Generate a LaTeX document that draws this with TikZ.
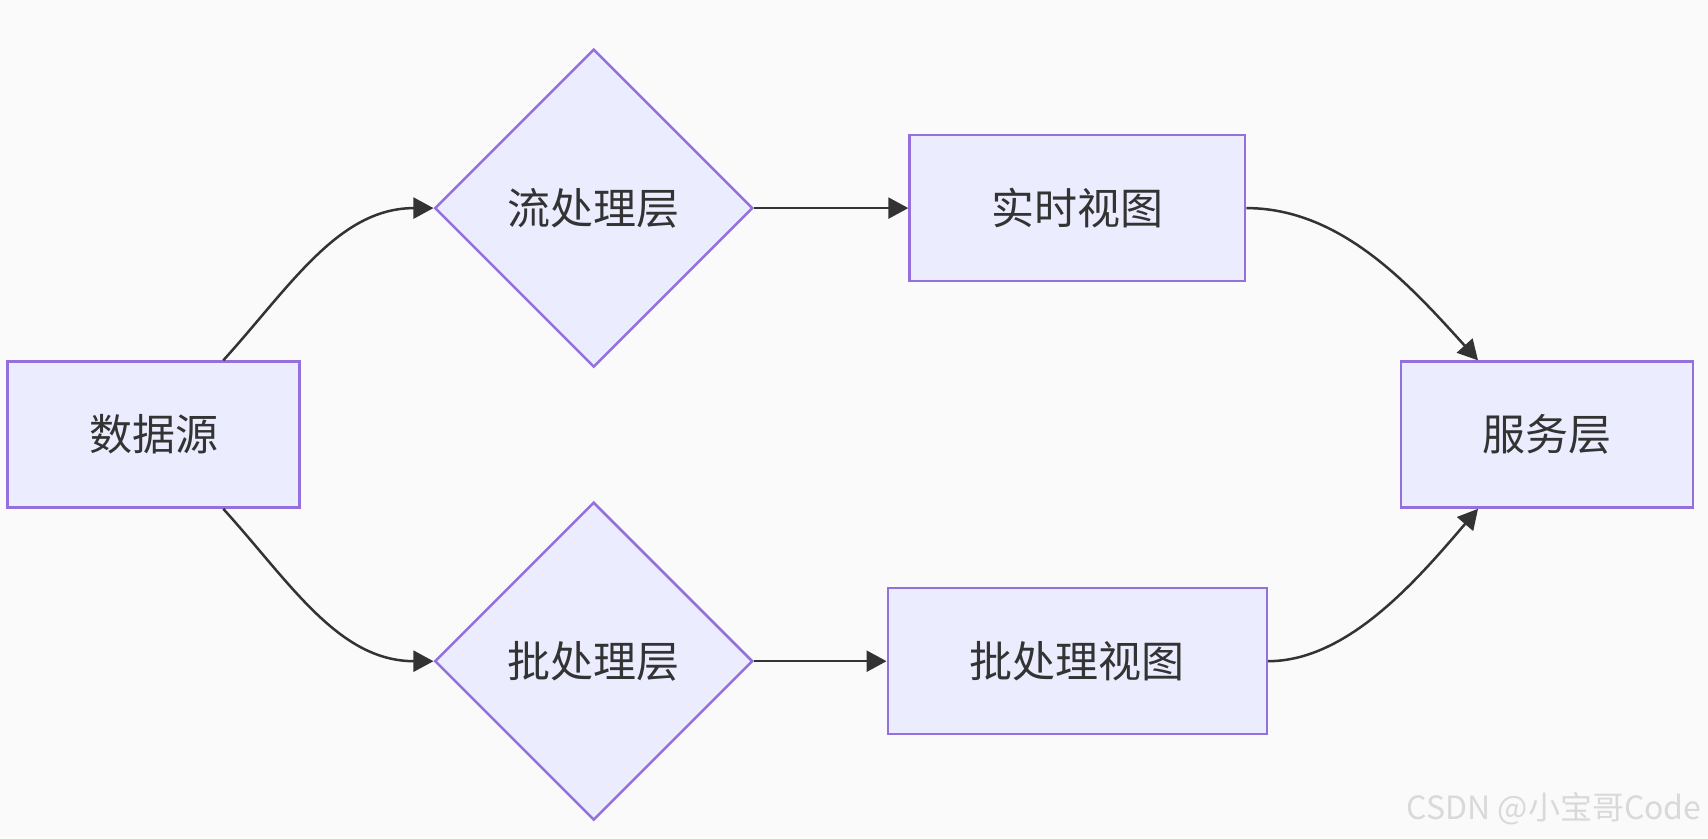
\documentclass[tikz,border=0pt]{standalone}
\usepackage{fontspec}
\setmainfont{Noto Sans CJK SC}
\usetikzlibrary{shapes.geometric,arrows.meta,positioning}
\definecolor{nodefill}{HTML}{ECECFF}
\definecolor{nodeline}{HTML}{9370DB}
\definecolor{edgeline}{HTML}{333333}
\definecolor{bg}{HTML}{FAFAFA}

\begin{document}
\begin{tikzpicture}[x=1pt, y=1pt,
font=\fontsize{43pt}{50pt}\selectfont, text=edgeline,
box/.style={draw=nodeline, fill=nodefill, line width=2.5pt, minimum height=146pt, inner sep=0pt},
choice/.style={diamond, aspect=1, draw=nodeline, fill=nodefill, line width=2.5pt, minimum size=318pt, inner sep=0pt},
flow/.style={draw=edgeline, line width=2.5pt, -{Triangle[length=20pt,width=21pt]}},
]
\fill[bg] (0,0) rectangle (1708,838);
\useasboundingbox (0,0) rectangle (1708,838);

\node[box, minimum width=292pt] (src) at (153.6,403.4) {数据源};
\node[choice] (stream) at (593.7,629.9) {流处理层};
\node[choice] (batch) at (593.7,176.8) {批处理层};
\node[box, minimum width=335.5pt, node distance=483.6pt, right of=stream] (rt) {实时视图};
\node[box, minimum width=379pt, node distance=483.6pt, right of=batch] (bv) {批处理视图};
\node[box, minimum width=292pt] (serve) at (1546.8,403.4) {服务层};

\node[anchor=east, font=\fontsize{32pt}{36pt}\selectfont, text=gray!30] (mark) at (1705,29) {CSDN @小宝哥Code};

\draw[flow] ([xshift=69.7pt]src.north) .. controls +(67,74) and +(-95,0) .. (stream.west);
\draw[flow] ([xshift=69.7pt]src.south) .. controls +(67,-74) and +(-95,0) .. (batch.west);
\draw[flow] (stream.east) -- (rt.west);
\draw[flow] (batch.east) -- (bv.west);
\draw[flow] (rt.east) .. controls +(95,0) and +(-67,74) .. ([xshift=-68.8pt]serve.north);
\draw[flow] (bv.east) .. controls +(80,0) and +(-60,-70) .. ([xshift=-68.8pt]serve.south);

\end{tikzpicture}
\end{document}
